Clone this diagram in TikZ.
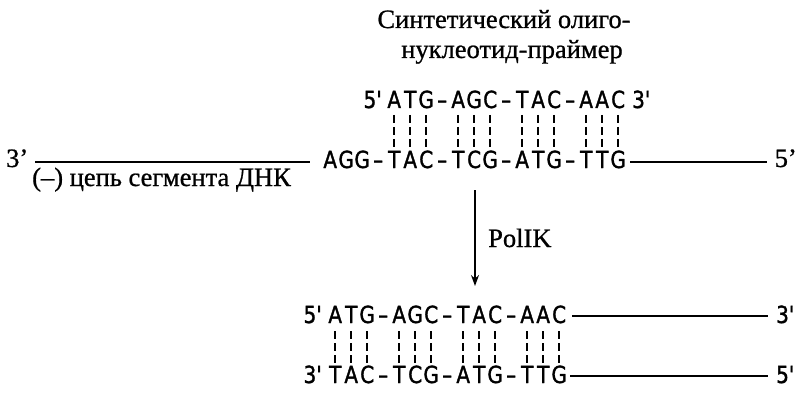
\documentclass[tikz,border=0pt]{standalone}
\usepackage{fontspec}
\setmainfont{Liberation Serif}
\newfontfamily\labfont[FakeBold=0.8]{Liberation Serif}
\newfontfamily\seqfont[FakeStretch=0.85,FakeBold=1.4]{DejaVu Sans}
\usetikzlibrary{arrows.meta,calc}
\makeatletter
\def\sq@hy{-}
\newcommand\seqtxt[1]{\@tfor\sq@ch:=#1\do{\makebox[16pt][c]{\ifx\sq@ch\sq@hy\textendash\else\sq@ch\fi}}}
\makeatother
\tikzset{
  seq/.style={inner sep=0pt, font=\seqfont\fontsize{23.5}{23.5}\selectfont},
  lab/.style={inner sep=0pt, font=\labfont\fontsize{26.5}{26.5}\selectfont},
  strand/.style={line width=1.6pt},
  pair/.style={line width=1.8pt, dash pattern=on 8pt off 4pt},
  arr/.style={line width=1.3pt, -{Stealth[length=11pt,width=8pt]}}
}
\begin{document}
\begin{tikzpicture}[x=1pt,y=-1pt]
\path[fill=white] (0,0) rectangle (800,393);
\useasboundingbox (0,0) rectangle (800,393);

% title
\node[lab, anchor=base] (t1) at (504,28) {Синтетический олиго-};
\node[lab, anchor=base] (t2) at (512,58) {нуклеотид-праймер};

% primer row
\node[seq, anchor=base west] (pseq) at (386,108) {\seqtxt{ATG-AGC-TAC-AAC}};
\node[seq, anchor=base east] (p5) at (382,108) {5'};
\node[seq, anchor=base west] (p3) at (632,108) {3'};

% template row
\node[seq, anchor=base west] (mseq) at (322,168) {\seqtxt{AGG-TAC-TCG-ATG-TTG}};
\node[lab, anchor=base west] (m3) at (6,167) {3’};
\node[lab, anchor=base east] (m5) at (797,167) {5’};
\draw[strand] ([xshift=7pt]m3.east |- 0,162) -- ([xshift=-12pt]mseq.west |- 0,162);
\draw[strand] ([xshift=4pt]mseq.east |- 0,162) -- ([xshift=-8pt]m5.west |- 0,162);
\node[lab, anchor=base west] (lbl) at (32,186) {(–) цепь сегмента ДНК};

\foreach \k in {0,1,2,4,5,6,8,9,10,12,13,14}
  \draw[pair] ($(pseq.base west)+(8+16*\k,7)$) -- ++(0,32);

% enzyme step
\coordinate (atop) at (475,190);
\coordinate (abot) at (475,286);
\draw[arr] (atop) -- (abot);
\node[lab, anchor=base west] (pol) at (488,247) {PolIK};

% product duplex
\node[seq, anchor=base west] (nseq) at (327,323) {\seqtxt{ATG-AGC-TAC-AAC}};
\node[seq, anchor=base east] (n5) at (322,323) {5'};
\node[seq, anchor=base west] (n3) at (776,323) {3'};
\node[seq, anchor=base west] (oseq) at (327,383) {\seqtxt{TAC-TCG-ATG-TTG}};
\node[seq, anchor=base east] (o3) at (322,383) {3'};
\node[seq, anchor=base west] (o5) at (776,383) {5'};
\draw[strand] ([xshift=5pt]nseq.east |- 0,316) -- ([xshift=-8pt]n3.west |- 0,316);
\draw[strand] ([xshift=3pt]oseq.east |- 0,376) -- ([xshift=-8pt]o5.west |- 0,376);

\foreach \k in {0,1,2,4,5,6,8,9,10,12,13,14}
  \draw[pair] ($(nseq.base west)+(8+16*\k,8)$) -- ++(0,32);
\end{tikzpicture}
\end{document}
